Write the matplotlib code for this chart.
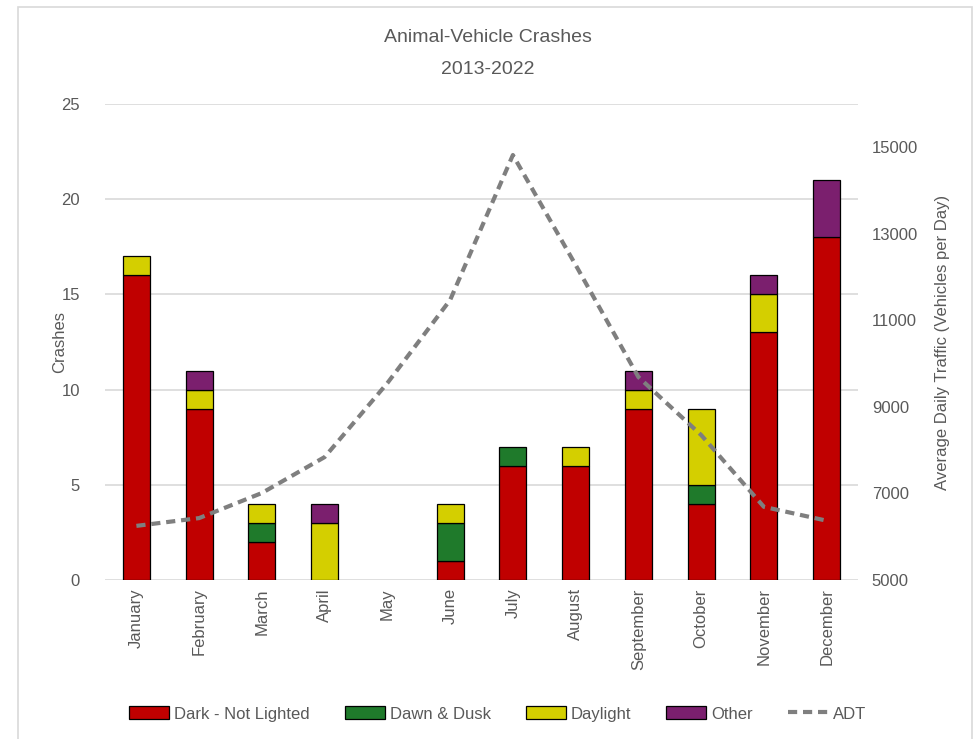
import numpy as np
import matplotlib
matplotlib.use('Agg')
import matplotlib.pyplot as plt
from matplotlib.patches import Rectangle

months = ['January', 'February', 'March', 'April', 'May', 'June', 'July',
          'August', 'September', 'October', 'November', 'December']
dark = [16, 9, 2, 0, 0, 1, 6, 6, 9, 4, 13, 18]
dawn_dusk = [0, 0, 1, 0, 0, 2, 1, 0, 0, 1, 0, 0]
daylight = [1, 1, 1, 3, 0, 1, 0, 1, 1, 4, 2, 0]
other = [0, 1, 0, 1, 0, 0, 0, 0, 1, 0, 1, 3]
adt = [6250, 6430, 7010, 7840, 9550, 11470, 14820, 12280, 9690, 8350, 6690, 6370]

series = [('Dark - Not Lighted', dark, '#C00000'),
          ('Dawn & Dusk', dawn_dusk, '#1F7A2B'),
          ('Daylight', daylight, '#D4CF00'),
          ('Other', other, '#7B1F6E')]

TXT = '#595959'
plt.rcParams['font.family'] = ['Liberation Sans', 'DejaVu Sans']

fig = plt.figure(figsize=(9.76, 7.39), dpi=100)
fig.patches.append(Rectangle((18 / 976, -0.05), (972 - 18) / 976, 1.05 - 7 / 739,
                             transform=fig.transFigure, fill=False,
                             edgecolor='#D9D9D9', linewidth=1.2))

ax = fig.add_axes([0.1076, 0.2152, 0.7715, 0.6441])
x = np.arange(len(months))
bottom = np.zeros(len(months))
handles = []
for name, vals, col in series:
    lw = [0.9 if v > 0 else 0 for v in vals]
    ax.bar(x, vals, width=0.43, bottom=bottom, color=col, edgecolor='black',
           linewidth=lw, zorder=3)
    bottom += np.array(vals)
    handles.append(Rectangle((0, 0), 1, 1, facecolor=col, edgecolor='black',
                             linewidth=0.9, label=name))

ax.set_xlim(-0.5, 11.5)
ax.set_ylim(0, 25)
ax.set_yticks(range(0, 26, 5))
ax.set_xticks(x)
ax.set_xticklabels(months, rotation=90)
ax.grid(axis='y', color='#D9D9D9', linewidth=1.2, zorder=0)
for s in ax.spines.values():
    s.set_visible(False)
ax.tick_params(axis='both', length=0, colors=TXT, labelsize=12)
ax.tick_params(axis='x', pad=6)
ax.tick_params(axis='y', pad=18)
ax.set_ylabel('Crashes', color=TXT, fontsize=12, labelpad=-4)

ax2 = ax.twinx()
line, = ax2.plot(x, adt, color='#7F7F7F', linestyle=(0, (2.2, 1.4)), linewidth=3,
                 label='ADT', zorder=4)
handles.append(line)
ax2.set_ylim(5000, 16000)
ax2.set_yticks(range(5000, 15001, 2000))
for s in ax2.spines.values():
    s.set_visible(False)
ax2.tick_params(axis='y', length=0, colors=TXT, labelsize=12, pad=10)
ax2.set_ylabel('Average Daily Traffic (Vehicles per Day)', color=TXT,
               fontsize=12, labelpad=12)

fig.text(0.5, 1 - 38 / 739, 'Animal-Vehicle Crashes', ha='center', va='center',
         color=TXT, fontsize=14)
fig.text(0.5, 1 - 69 / 739, '2013-2022', ha='center', va='center',
         color=TXT, fontsize=14)

leg = fig.legend(handles=handles, loc='center', bbox_to_anchor=(0.51, 1 - 714 / 739),
                 ncol=5, frameon=False, fontsize=12, handlelength=2.4,
                 handleheight=0.8, handletextpad=0.3, columnspacing=2.1)
for t in leg.get_texts():
    t.set_color(TXT)

fig.savefig('out.png', dpi=100)
